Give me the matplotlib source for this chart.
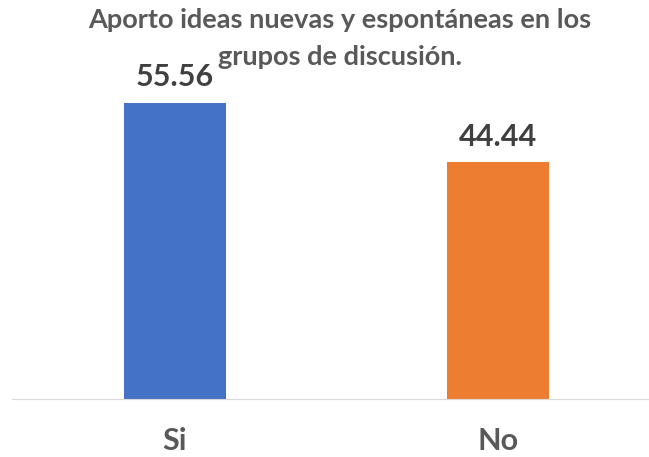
import matplotlib
matplotlib.use("Agg")
import matplotlib.pyplot as plt

categories = ["Si", "No"]
values = [55.56, 44.44]
colors = ["#4472C4", "#ED7D31"]
title = "Aporto ideas nuevas y espontáneas en los\ngrupos de discusión."

W, H = 649, 457
fig = plt.figure(figsize=(W/100, H/100), dpi=100)
ax = fig.add_axes([0, (H-399)/H, 1, 399/H])
ax.set_xlim(-0.542, 1.467)
ax.set_ylim(0, 399/5.328)
x = list(range(len(categories)))
ax.bar(x, values, width=0.316, color=colors)
for xi, v in zip(x, values):
    ax.text(xi, v + 2.2, f"{v:.2f}", ha="center", va="bottom", fontsize=22,
            fontweight="bold", color="#404040", family="Lato")
for s in ["top", "right", "left"]:
    ax.spines[s].set_visible(False)
ax.spines["bottom"].set_color("#D9D9D9")
ax.spines["bottom"].set_bounds(-0.505, 1.467)
ax.set_yticks([])
ax.set_xticks(x)
ax.set_xticklabels(categories, fontsize=22, fontweight="bold", color="#595959", family="Lato")
ax.tick_params(axis="x", length=0, pad=20)
fig.text(340/W, 1 - 8/H, title, ha="center", va="top", fontsize=19.5, fontweight="bold",
         color="#595959", family="Lato", linespacing=1.65)
fig.savefig("out.png", dpi=100)
